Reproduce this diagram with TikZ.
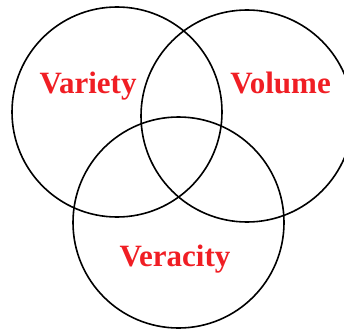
\documentclass[tikz,border=0pt]{standalone}
\usepackage{fontspec}
\setmainfont{Liberation Serif}
\definecolor{lblred}{RGB}{240,30,36}
\begin{document}
\begin{tikzpicture}[x=1pt,y=-1pt,
  ring/.style={draw=black,line width=1.6pt},
  lbl/.style={text=lblred,font=\fontsize{31}{36}\selectfont\bfseries,anchor=base,inner sep=0pt}]
\useasboundingbox (0,0) rectangle (344,329);
\begin{scope}
\clip (0,0) rectangle (344,329);
\node[ring,circle,minimum size=210pt,inner sep=0pt] (c1) at (117,112) {};
\node[ring,circle,minimum size=212pt,inner sep=0pt] (c2) at (247,116) {};
\node[ring,circle,minimum size=211pt,inner sep=0pt] (c3) at (178.5,222.5) {};
\end{scope}
\node[lbl] (t1) at (88,93) {Variety};
\node[lbl] (t2) at (280.5,93) {Volume};
\node[lbl] (t3) at (175,266) {Veracity};
\end{tikzpicture}
\end{document}
